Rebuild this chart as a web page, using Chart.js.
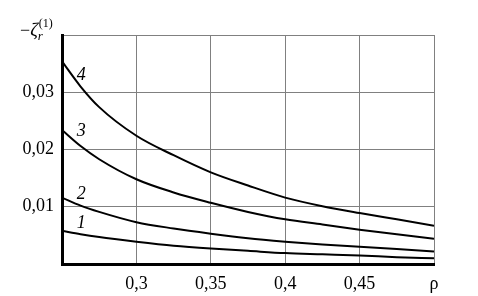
<!DOCTYPE html>
<html><head><meta charset="utf-8">
<script src="https://cdn.jsdelivr.net/npm/chart.js@4/dist/chart.umd.min.js"></script>
<style>html,body{margin:0;padding:0;background:#fff}#wrap{width:478px;height:296px}</style>
</head><body><div id="wrap"><canvas id="c" width="478" height="296"></canvas></div>
<script>
const rho = [0.25, 0.2625, 0.275, 0.3, 0.325, 0.35, 0.375, 0.4, 0.425, 0.45, 0.475, 0.5];
const curve1 = [0.0058, 0.0052, 0.0047, 0.0039, 0.0032, 0.0027, 0.0023, 0.0019, 0.0017, 0.0015, 0.0012, 0.0010];
const curve2 = [0.0116, 0.0102, 0.0091, 0.0073, 0.0062, 0.0053, 0.0045, 0.0039, 0.0034, 0.0030, 0.0026, 0.0022];
const curve3 = [0.0234, 0.0206, 0.0183, 0.0148, 0.0125, 0.0107, 0.0091, 0.0078, 0.0069, 0.0060, 0.0052, 0.0044];
const curve4 = [0.0354, 0.0310, 0.0274, 0.0224, 0.0190, 0.0160, 0.0137, 0.0116, 0.0101, 0.0089, 0.0078, 0.0067];
const curveNames = ['1', '2', '3', '4'];
const curveLabelX = [0.263, 0.263, 0.263, 0.263];
const curveLabelY = [0.0072, 0.0121, 0.0231, 0.0330];
const xTickLabels = {0.3: '0,3', 0.35: '0,35', 0.4: '0,4', 0.45: '0,45', 0.5: 'ρ'};
const yTickLabels = {0.01: '0,01', 0.02: '0,02', 0.03: '0,03'};

const serif = '"Liberation Serif", "DejaVu Serif", serif';
const series = [curve1, curve2, curve3, curve4];
const datasets = series.map((s, i) => ({
  label: curveNames[i],
  data: rho.map((x, j) => ({x: x, y: s[j]})),
  borderColor: '#000', borderWidth: 2, pointRadius: 0,
  cubicInterpolationMode: 'monotone', fill: false
}));

const annot = {
  id: 'annot',
  afterDatasetsDraw(chart) {
    const ctx = chart.ctx, xs = chart.scales.x, ys = chart.scales.y;
    ctx.save();
    ctx.fillStyle = '#000';
    ctx.textAlign = 'center'; ctx.textBaseline = 'middle';
    ctx.font = 'italic 18px ' + serif;
    curveNames.forEach((n, i) => {
      ctx.fillText(n, xs.getPixelForValue(curveLabelX[i]), ys.getPixelForValue(curveLabelY[i]));
    });
    // y-axis title  −ζ_r^(1)
    const a = chart.chartArea;
    ctx.textAlign = 'left'; ctx.textBaseline = 'alphabetic';
    ctx.font = '18px ' + serif;
    const bx = a.left - 42, by = a.top + 1;
    ctx.fillText('−', bx, by);
    let w = ctx.measureText('−').width;
    ctx.font = 'italic 19px ' + serif;
    ctx.fillText('ζ', bx + w, by);
    w += ctx.measureText('ζ').width;
    ctx.font = 'italic 13px ' + serif;
    ctx.fillText('r', bx + w, by + 4);
    ctx.font = '12px ' + serif;
    ctx.fillText('(1)', bx + w + 1, by - 9);
    ctx.restore();
  }
};

new Chart(document.getElementById('c'), {
  type: 'line',
  data: {datasets},
  options: {
    responsive: false, animation: false, devicePixelRatio: 1,
    layout: {padding: {left: 0, right: 44, top: 35, bottom: 0}},
    plugins: {legend: {display: false}, tooltip: {enabled: false}},
    scales: {
      x: {
        type: 'linear', min: 0.25, max: 0.5,
        afterFit(s) { s.height = 32; },
        grid: {color: '#808080', lineWidth: 1, drawTicks: false},
        border: {color: '#000', width: 3},
        ticks: {
          stepSize: 0.05, padding: 9, color: '#000',
          font: {family: serif, size: 18},
          callback: v => xTickLabels[Math.round(v * 100) / 100] || ''
        }
      },
      y: {
        type: 'linear', min: 0, max: 0.04,
        afterFit(s) { s.width = 62; },
        grid: {color: '#808080', lineWidth: 1, drawTicks: false},
        border: {color: '#000', width: 3},
        ticks: {
          stepSize: 0.01, padding: 8, color: '#000',
          font: {family: serif, size: 18},
          callback: v => yTickLabels[Math.round(v * 100) / 100] || ''
        }
      }
    }
  },
  plugins: [annot]
});
</script></body></html>
